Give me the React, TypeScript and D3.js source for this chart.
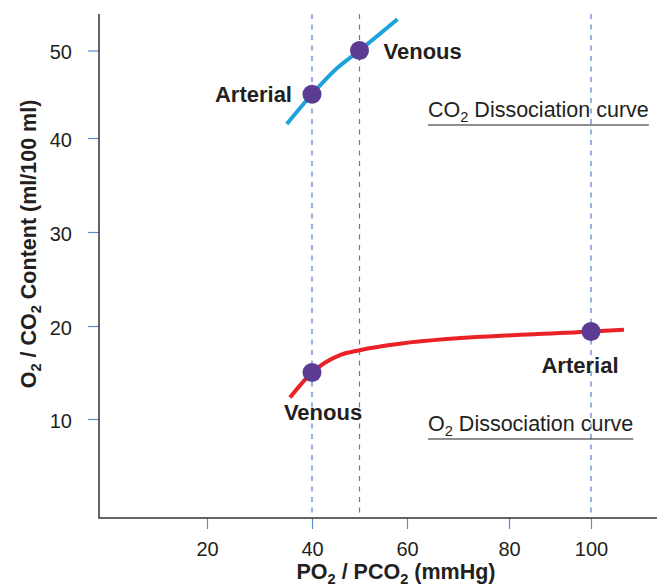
import React, { useEffect, useRef } from 'react'
import * as d3 from 'd3'

const xTicks = [20, 40, 60, 80, 100]
const yTicks = [10, 20, 30, 40, 50]
const guideLines = [40, 50, 100]

// CO2 content vs PCO2
const co2Curve: [number, number][] = [[35.2, 41.6], [40, 45], [45.3, 48], [50, 50], [58, 53.6]]
// O2 content vs PO2
const o2Curve: [number, number][] = [[35.8, 12.3], [40, 15], [46, 16.9], [50, 17.4], [58.5, 18.1], [100, 19.4], [108, 19.6]]

const co2Points = [{ name: 'Arterial', x: 40, y: 45 }, { name: 'Venous', x: 50, y: 50 }]
const o2Points = [{ name: 'Venous', x: 40, y: 15 }, { name: 'Arterial', x: 100, y: 19.4 }]

const xTitle: [string, boolean][] = [['PO', false], ['2', true], [' / PCO', false], ['2', true], [' (mmHg)', false]]
const yTitle: [string, boolean][] = [['O', false], ['2', true], [' / CO', false], ['2', true], [' Content (ml/100 ml)', false]]
const co2Name: [string, boolean][] = [['CO', false], ['2', true], [' Dissociation curve', false]]
const o2Name: [string, boolean][] = [['O', false], ['2', true], [' Dissociation curve', false]]

const font = 'Liberation Sans, Arial, Helvetica, sans-serif'
const ink = '#231f20'
const tickBlue = '#5a8bd2'

const App: React.FC = () => {
  const svgRef = useRef() as React.MutableRefObject<SVGSVGElement>

  useEffect(() => {
    const width = 657
    const height = 588
    const left = 99, right = 657, top = 14, bottom = 518

    const svg = d3.select(svgRef.current)
    svg.html('')
    svg.attr('width', width).attr('height', height).attr('viewBox', `0 0 ${width} ${height}`)

    // the printed axes are not quite evenly spaced, so use piecewise scales
    const x = d3.scaleLinear()
      .domain([0, 20, 40, 60, 80, 100, 116])
      .range([99, 207, 312, 407, 509, 591, 657])
    const y = d3.scaleLinear()
      .domain([0, 10, 20, 30, 40, 50, 54.2])
      .range([512, 419, 326, 232, 138, 50.5, 14])

    const subText = (sel: d3.Selection<SVGTextElement, unknown, null, undefined>, parts: [string, boolean][], size: number) => {
      let shifted = false
      parts.forEach(([t, sub]) => {
        const ts = sel.append('tspan').text(t)
        if (sub) {
          ts.attr('font-size', size * 0.68).attr('dy', size * 0.24)
          shifted = true
        } else {
          if (shifted) ts.attr('dy', -size * 0.24)
          shifted = false
        }
      })
    }

    // dashed guide lines
    svg.append('g')
      .selectAll('line')
      .data(guideLines)
      .join('line')
      .attr('x1', d => x(d)).attr('x2', d => x(d))
      .attr('y1', top).attr('y2', bottom)
      .attr('stroke', '#4f7fcb')
      .attr('stroke-width', 1.2)
      .attr('stroke-dasharray', '5,5.5')

    // axes
    const xAxis = svg.append('g')
      .attr('transform', `translate(0, ${bottom})`)
      .call(d3.axisBottom(x).tickValues(xTicks).tickSize(11).tickSizeOuter(0).tickPadding(13))
    const yAxis = svg.append('g')
      .attr('transform', `translate(${left}, 0)`)
      .call(d3.axisLeft(y).tickValues(yTicks).tickSize(11).tickSizeOuter(0).tickPadding(16))
    ;[xAxis, yAxis].forEach(a => {
      a.select('.domain').remove()
      a.selectAll('line').attr('stroke', tickBlue).attr('stroke-width', 1.2)
      a.selectAll('text').attr('font-family', font).attr('font-size', 20).attr('fill', ink)
    })
    yAxis.selectAll('text').attr('dy', '0.42em')

    svg.append('path')
      .attr('d', `M${left},${top}V${bottom}H${right}`)
      .attr('fill', 'none')
      .attr('stroke', '#333')
      .attr('stroke-width', 1.5)

    // axis titles
    const xt = svg.append('text')
      .attr('x', 396).attr('y', 579)
      .attr('text-anchor', 'middle')
      .attr('font-family', font).attr('font-size', 21.5).attr('font-weight', 'bold').attr('fill', ink)
    subText(xt, xTitle, 21.5)

    const yt = svg.append('text')
      .attr('transform', `translate(36, 244) rotate(-90)`)
      .attr('text-anchor', 'middle')
      .attr('font-family', font).attr('font-size', 21.5).attr('font-weight', 'bold').attr('fill', ink)
    subText(yt, yTitle, 21.5)

    // curves
    const line = d3.line<[number, number]>()
      .x(d => x(d[0]))
      .y(d => y(d[1]))
      .curve(d3.curveMonotoneX)

    svg.append('path')
      .datum(co2Curve)
      .attr('fill', 'none')
      .attr('stroke', '#1ea2db')
      .attr('stroke-width', 4)
      .attr('d', line)

    svg.append('path')
      .datum(o2Curve)
      .attr('fill', 'none')
      .attr('stroke', '#ea2228')
      .attr('stroke-width', 4)
      .attr('d', line)

    // points
    svg.append('g')
      .selectAll('circle')
      .data([...co2Points, ...o2Points])
      .join('circle')
      .attr('cx', d => x(d.x))
      .attr('cy', d => y(d.y))
      .attr('r', 9.5)
      .attr('fill', '#5b3c92')

    const labelOffsets: { dx: number, dy: number, anchor: string }[] = [
      { dx: -20, dy: 8, anchor: 'end' },
      { dx: 24, dy: 8, anchor: 'start' },
      { dx: 11, dy: 47, anchor: 'middle' },
      { dx: -11, dy: 41, anchor: 'middle' },
    ]
    svg.append('g')
      .selectAll('text')
      .data([...co2Points, ...o2Points])
      .join('text')
      .attr('x', (d, i) => x(d.x) + labelOffsets[i].dx)
      .attr('y', (d, i) => y(d.y) + labelOffsets[i].dy)
      .attr('text-anchor', (d, i) => labelOffsets[i].anchor)
      .attr('font-family', font).attr('font-size', 22).attr('font-weight', 'bold').attr('fill', ink)
      .text(d => d.name)

    // curve names, underlined
    const names: [[string, boolean][], number, number][] = [[co2Name, 428, 117], [o2Name, 428, 431]]
    names.forEach(([parts, nx, ny]) => {
      const t = svg.append('text')
        .attr('x', nx).attr('y', ny)
        .attr('font-family', font).attr('font-size', 21.5).attr('fill', ink)
      subText(t, parts, 21.5)
      const w = (t.node() as SVGTextElement).getComputedTextLength()
      svg.append('line')
        .attr('x1', nx).attr('x2', nx + w)
        .attr('y1', ny + 8).attr('y2', ny + 8)
        .attr('stroke', ink).attr('stroke-width', 1.2)
    })
  }, [])

  return (
    <div style={{ position: 'absolute', left: 0, top: 0 }}>
      <svg ref={svgRef} style={{ display: 'block' }} />
    </div>
  )
}

export default App
